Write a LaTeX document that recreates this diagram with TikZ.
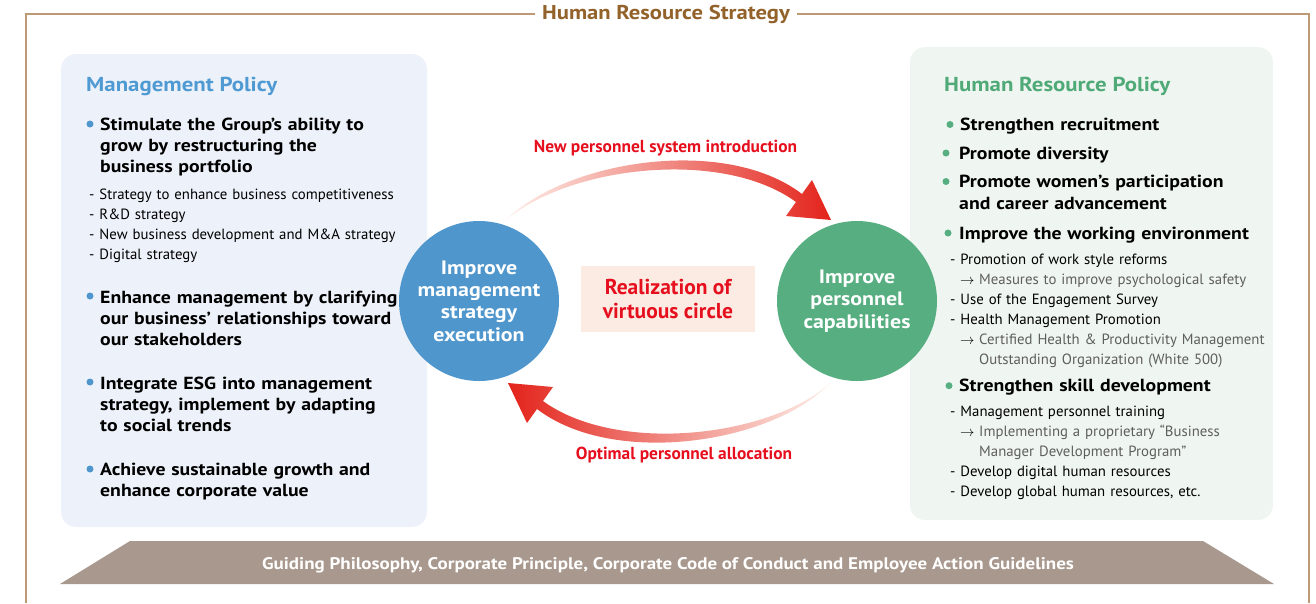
\documentclass[tikz,border=0pt]{standalone}
\usepackage{fontspec}
\setmainfont{PT Sans}[BoldFeatures={FakeStretch=1.13}]
\newfontfamily\ptplain{PT Sans}
\usepackage{tikz}
\pgfdeclarelayer{bg}
\pgfsetlayers{bg,main}

\definecolor{framebrown}{HTML}{BC9B74}
\definecolor{titlebrown}{HTML}{93622A}
\definecolor{blueC}{HTML}{4E96CC}
\definecolor{blueT}{HTML}{4F9AD2}
\definecolor{greenC}{HTML}{57AE80}
\definecolor{greenT}{HTML}{4FAA78}
\definecolor{panelblue}{HTML}{EDF2FA}
\definecolor{panelgreen}{HTML}{EFF6F1}
\definecolor{redT}{HTML}{E60F1E}
\definecolor{pinkbox}{HTML}{FCEBE3}
\definecolor{basecol}{HTML}{A8988D}
\definecolor{subgray}{HTML}{5E5E5E}
\definecolor{arrowpale}{HTML}{FDF1EA}
\definecolor{arrowpeach}{HTML}{F5BC9E}
\definecolor{arrowred}{HTML}{E3231B}

\tikzset{
  ptitle/.style={anchor=base west, inner sep=0pt, font=\fontsize{20.2}{24}\selectfont\bfseries},
  bitem/.style={anchor=base west, inner sep=0pt, text width=340pt, align=left, font=\fontsize{17.5}{21.3}\selectfont\bfseries},
  sitem/.style={anchor=base west, inner sep=0pt, text width=340pt, align=left, font=\fontsize{14.8}{20}\selectfont},
  bdot/.style={circle, inner sep=0pt, minimum size=7pt, fill=#1},
  circ/.style={circle, minimum size=160pt, inner sep=0pt, align=center, text=white, font=\fontsize{19.4}{22.3}\selectfont\bfseries},
  cyclelabel/.style={anchor=base, text=redT, font=\fontsize{17.4}{20}\selectfont\ptplain\bfseries},
}
\newcommand{\subarrow}{\hspace*{10pt}\makebox[19pt][l]{$\rightarrow$}}

\begin{document}
\begin{tikzpicture}[x=1pt, y=-1pt]
        \useasboundingbox (0,0) rectangle (1316,603);
        % frame and title
        \draw[framebrown, line width=1.2pt] (26,603) -- (26,14) -- (1309,14) -- (1309,603);
        \node (hrs) [anchor=base, fill=white, inner xsep=7pt, text=titlebrown, font=\fontsize{20}{22}\selectfont\bfseries] at (666,19.5) {Human Resource Strategy};
        % circles and centre box
        \node (ce) [circ, fill=blueC] at (479,301) {Improve\\management\\strategy\\execution};
        \node (cc) [circ, fill=greenC] at (857,301) {Improve\\personnel\\capabilities};
        \node (vc) [fill=pinkbox, minimum width=174pt, minimum height=66pt, align=center, text=redT, font=\fontsize{21.5}{23.4}\selectfont\ptplain\bfseries] at (668,299) {Realization of\\virtuous circle};
        \node (l0) [cyclelabel] at (665.5,152.3) {New personnel system introduction};
        \node (l1) [cyclelabel] at (684,459.3) {Optimal personnel allocation};
        % left panel
        \node (mpt) [ptitle, text=blueT] at (86,91.7) {Management Policy};
        \node (m1) [bitem] at (100,130) {Stimulate the Group’s ability to\\grow by restructuring the\\business portfolio};
        \node (m1s) [sitem] at (89,199.3) {- Strategy to enhance business competitiveness\\- R\&D strategy\\- New business development and M\&A strategy\\- Digital strategy};
        \node (m2) [bitem] at (100,303.3) {Enhance management by clarifying\\our business’ relationships toward\\our stakeholders};
        \node (m3) [bitem] at (100,389.3) {Integrate ESG into management\\strategy, implement by adapting\\to social trends};
        \node (m4) [bitem] at (100,475) {Achieve sustainable growth and\\enhance corporate value};
        \node (d1) [bdot=blueC] at (90,124) {};
        \node (d2) [bdot=blueC] at (90,296) {};
        \node (d3) [bdot=blueC] at (90,382) {};
        \node (d4) [bdot=blueC] at (90,469) {};
        % right panel
        \node (hpt) [ptitle, text=greenT] at (944,91.7) {Human Resource Policy};
        \node (h1) [bitem] at (960,130.7) {Strengthen recruitment};
        \node (h2) [bitem] at (959,159) {Promote diversity};
        \node (h3) [bitem] at (959,187.7) {Promote women’s participation\\and career advancement};
        \node (h4) [bitem] at (959,239.3) {Improve the working environment};
        \node (h4s) [sitem] at (950,264) {- Promotion of work style reforms\\
                \subarrow{\color{subgray}Measures to improve psychological safety}\\
                - Use of the Engagement Survey\\
                - Health Management Promotion\\
                \subarrow{\color{subgray}Certified Health \& Productivity Management}\\
                \hspace*{29pt}{\color{subgray}Outstanding Organization (White 500)}};
        \node (h5) [bitem] at (959,391.7) {Strengthen skill development};
        \node (h5s) [sitem] at (950,416) {- Management personnel training\\
                \subarrow{\color{subgray}Implementing a proprietary “Business}\\
                \hspace*{29pt}{\color{subgray}Manager Development Program”}\\
                - Develop digital human resources\\
                - Develop global human resources, etc.};
        \node (e1) [bdot=greenC] at (950,124.5) {};
        \node (e2) [bdot=greenC] at (946,153) {};
        \node (e3) [bdot=greenC] at (946,181.5) {};
        \node (e4) [bdot=greenC] at (948,233) {};
        \node (e5) [bdot=greenC] at (949,385.7) {};
        % base
        \fill[basecol] (130,541) -- (1203,541) -- (1274,584) -- (60,584) -- cycle;
        \node (gp) [anchor=base, text=white, font=\fontsize{16.8}{18}\selectfont\bfseries] at (668,569) {Guiding Philosophy, Corporate Principle, Corporate Code of Conduct and Employee Action Guidelines};
        \begin{pgfonlayer}{bg}
                \fill[panelblue, rounded corners=15pt] (61,54) rectangle (427,527);
                \fill[panelgreen, rounded corners=15pt] (910,47) rectangle (1273,520);
                % cycle arrows
                \shade[left color=arrowpale, middle color=arrowpeach, right color=arrowred]
                        (505,221) .. controls (565,160) and (725,135) .. (802,194) -- (812,180) -- (831,220)
                        -- (786,216) -- (796,202) .. controls (722,148) and (568,166) .. (505,221) -- cycle;
                \shade[left color=arrowred, middle color=arrowpeach, right color=arrowpale]
                        (830,383) .. controls (774,443) and (614,468) .. (537,409) -- (527,423) -- (508,383)
                        -- (553,387) -- (543,401) .. controls (617,455) and (771,437) .. (830,383) -- cycle;
        \end{pgfonlayer}
\end{tikzpicture}
\end{document}
